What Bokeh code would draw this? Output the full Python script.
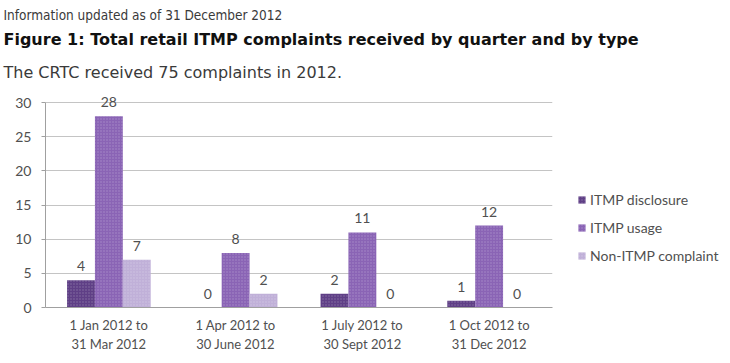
from bokeh.plotting import figure
from bokeh.models import (ColumnDataSource, FactorRange, Legend, LegendItem,
                          LabelSet, Title)
from bokeh.transform import dodge
from bokeh.core.properties import value
from bokeh.embed import file_html
from bokeh.resources import INLINE

quarters = ["1 Jan 2012 to\n31 Mar 2012", "1 Apr 2012 to\n30 June 2012",
            "1 July 2012 to\n30 Sept 2012", "1 Oct 2012 to\n31 Dec 2012"]
series_names = ["ITMP disclosure", "ITMP usage", "Non-ITMP complaint"]
disclosure = [4, 0, 2, 1]
usage = [28, 8, 11, 12]
non_itmp = [7, 2, 0, 0]
y_ticks = [0, 5, 10, 15, 20, 25, 30]
header_lines = ["Information updated as of 31 December 2012",
                "Figure 1: Total retail ITMP complaints received by quarter and by type",
                "The CRTC received 75 complaints in 2012."]

colors = ["#5f3f86", "#8a64b5", "#c0b0d8"]
text_col = "#505050"
chart_font = "Lato"

src = ColumnDataSource(dict(q=quarters, d=disclosure, u=usage, n=non_itmp,
                            dl=[str(v) for v in disclosure],
                            ul=[str(v) for v in usage],
                            nl=[str(v) for v in non_itmp]))

p = figure(frame_width=507, frame_height=213,
           x_range=FactorRange(*quarters, range_padding=0),
           y_range=(0, 31.2), output_backend="svg", toolbar_location=None,
           min_border_left=45, min_border_right=162, min_border_top=0,
           min_border_bottom=0)
p.outline_line_color = None
p.background_fill_color = "white"

offs = [-0.22, 0.0, 0.22]
cols = ["d", "u", "n"]
labs = ["dl", "ul", "nl"]
renderers = []
for off, c, col, lab in zip(offs, cols, colors, labs):
    r = p.vbar(x=dodge("q", off, range=p.x_range), top=c, width=0.22, source=src,
               fill_color=col, line_color=None,
               hatch_pattern="dot", hatch_color="white", hatch_alpha=0.25, hatch_scale=3)
    renderers.append(r)
    ls = LabelSet(x=dodge("q", off, range=p.x_range), y=c, text=lab, source=src,
                  y_offset=14, text_align="center", text_baseline="middle",
                  text_font=value(chart_font), text_font_size="14px", text_color=text_col)
    p.add_layout(ls)

# axes
p.yaxis.ticker = y_ticks
p.yaxis.bounds = (0, 30)
p.yaxis.major_label_text_font = chart_font
p.yaxis.major_label_text_font_size = "14px"
p.yaxis.major_label_text_color = text_col
p.yaxis.axis_line_color = "#a0a0a0"
p.yaxis.major_tick_line_color = "#a0a0a0"
p.yaxis.major_tick_in = 0
p.yaxis.major_tick_out = 4
p.yaxis.minor_tick_line_color = None
p.yaxis.major_label_standoff = 10

p.xaxis.major_label_text_font = chart_font
p.xaxis.major_label_text_font_size = "13px"
p.xaxis.major_label_text_color = text_col
p.xaxis.axis_line_color = "#a0a0a0"
p.xaxis.major_tick_line_color = None
p.xaxis.major_label_standoff = 3

p.xgrid.grid_line_color = None
p.ygrid.grid_line_color = "#c4c4c4"
p.ygrid.ticker = y_ticks

# legend in right panel
legend = Legend(items=[LegendItem(label=n, renderers=[r]) for n, r in zip(series_names, renderers)],
                location=(25, 43), background_fill_alpha=0, border_line_color=None,
                glyph_width=9, glyph_height=9, spacing=11, padding=0, margin=0,
                label_text_font=chart_font, label_text_font_size="14px",
                label_text_color=text_col, label_standoff=4)
p.add_layout(legend, "right")

# header lines (added innermost first)
hdr_styles = [
    dict(text_font="DejaVu Sans Condensed", text_font_size="13.5px", text_font_style="normal",
         text_color="#3a3a3a", standoff=9),
    dict(text_font="DejaVu Sans", text_font_size="16px", text_font_style="bold",
         text_color="#111111", standoff=0),
    dict(text_font="DejaVu Sans", text_font_size="16px", text_font_style="normal",
         text_color="#3a3a3a", standoff=25),
]
for i in [2, 1, 0]:
    p.add_layout(Title(text=header_lines[i], align="left", offset=-42,
                       text_line_height=1.0, **hdr_styles[i]), "above")

open("out.html", "w").write(file_html(p, INLINE))
